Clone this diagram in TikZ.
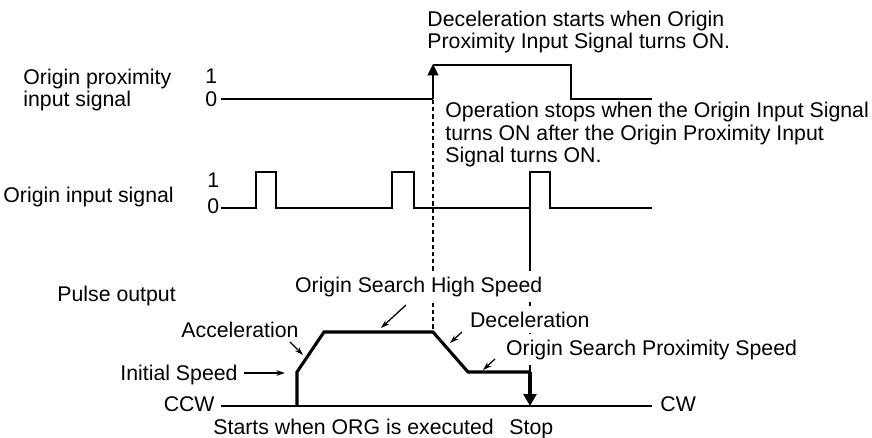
\documentclass[tikz,border=0pt]{standalone}
\usepackage{fontspec}
\setmainfont{Liberation Sans}
\usepackage{tikz}
\usetikzlibrary{arrows.meta, positioning}
\tikzset{
  %% ── Lines ────────────────────────────────────────────────────────────
  signal/.style      = {line width=1.2pt, line join=miter},
  profil/.style      = {line width=1.45pt, line join=miter},
  axe/.style         = {line width=0.6pt},
  repere/.style      = {line width=0.5pt, dash pattern=on 2pt off 1.4pt},
  repereFin/.style   = {line width=0.5pt},
  %%
  %% ── Arrows ───────────────────────────────────────────────────────────
  fleche/.style      = {-{Stealth[length=4pt, width=2.6pt]}, line width=0.6pt},
  flecheFront/.style = {-{Triangle[length=5.4pt, width=5pt]}, line width=1.2pt},
  flecheArret/.style = {-{Triangle[length=5.6pt, width=6pt]}, line width=1.45pt},
  %%
  %% ── Text ─────────────────────────────────────────────────────────────
  %% multi-line labels are placed by the baseline of their last line
  etiquette/.style   = {font=\fontsize{10}{10.8}\selectfont, inner sep=0pt,
                        align=left, anchor=base west},
  etiquetteFond/.style = {etiquette, fill=white, inner xsep=0.8pt,
                          inner ysep=2.5pt},
}

\begin{document}
\begin{tikzpicture}[x=0.47pt, y=-0.47pt]
\useasboundingbox (0,0) rectangle (872,438);

%% origin proximity input signal
\draw[signal] (221,99) -- (433,99);
\draw[flecheFront] (433,99) -- (433,64);
\draw[signal] (433,65) -- (571,65) -- (571,99) -- (652,99);

%% origin input signal
\draw[signal] (221,208) -- (256,208) -- (256,172) -- (276,172) -- (276,208)
  -- (392,208) -- (392,172) -- (414,172) -- (414,208)
  -- (530,208) -- (530,172) -- (550,172) -- (550,208) -- (652,208);

%% guides
\draw[repere] (433,100) -- (433,332);
\draw[repereFin] (530,208) -- (530,372);

%% pulse output
\coordinate (start) at (297,406);
\coordinate (init)  at (297,372);
\coordinate (haut1) at (324,332);
\coordinate (haut2) at (433,332);
\coordinate (bas1)  at (468,372);
\coordinate (bas2)  at (530,372);
\coordinate (stop)  at (530,406);
\draw[axe] (221,406) -- (652,406);
\draw[profil] (start) -- (init) -- (haut1) -- (haut2) -- (bas1) -- (bas2);
\draw[flecheArret] (bas2) -- (stop);

%% labels
\node[etiquette] (txtDecel) at (427,49)
     {Deceleration starts when Origin\\Proximity Input Signal turns ON.};
\node[etiquette] (txtStop) at (445,163)
     {Operation stops when the Origin Input Signal\\turns ON after the Origin Proximity Input\\Signal turns ON.};
\node[etiquette] (sigProx) at (23,107) {Origin proximity\\input signal};
\node[etiquette] (prox1) at (205,84) {1};
\node[etiquette] (prox0) at (205,107) {0};
\node[etiquette] (sigOrig) at (3,202) {Origin input signal};
\node[etiquette] (orig1) at (207,187) {1};
\node[etiquette] (orig0) at (207,213) {0};
\node[etiquette] (pulse) at (57,301) {Pulse output};
\node[etiquette] (accel) at (181,337) {Acceleration};
\node[etiquette] (initSpeed) at (120,380) {Initial Speed};
\node[etiquetteFond] (highSpeed) at (293,292) {Origin Search High Speed};
\node[etiquetteFond] (decel) at (468,327) {Deceleration};
\node[etiquetteFond] (proxSpeed) at (504,355) {Origin Search Proximity Speed};
\node[etiquette, anchor=base east] (ccw) at (215,411) {CCW};
\node[etiquette] (cw) at (660,411) {CW};
\node[etiquette] (orgExec) at (213,434) {Starts when ORG is executed};
\node[etiquette] (stopTxt) at (509,434) {Stop};

%% pointers
\draw[fleche] (244,373) -- (285,373);
\draw[fleche] (290,342) -- (303,355);
\draw[fleche] (406,305) -- (381,328);
\draw[fleche] (462,332) -- (450,343);
\draw[fleche] (495,359) -- (483,370);

\end{tikzpicture}
\end{document}
